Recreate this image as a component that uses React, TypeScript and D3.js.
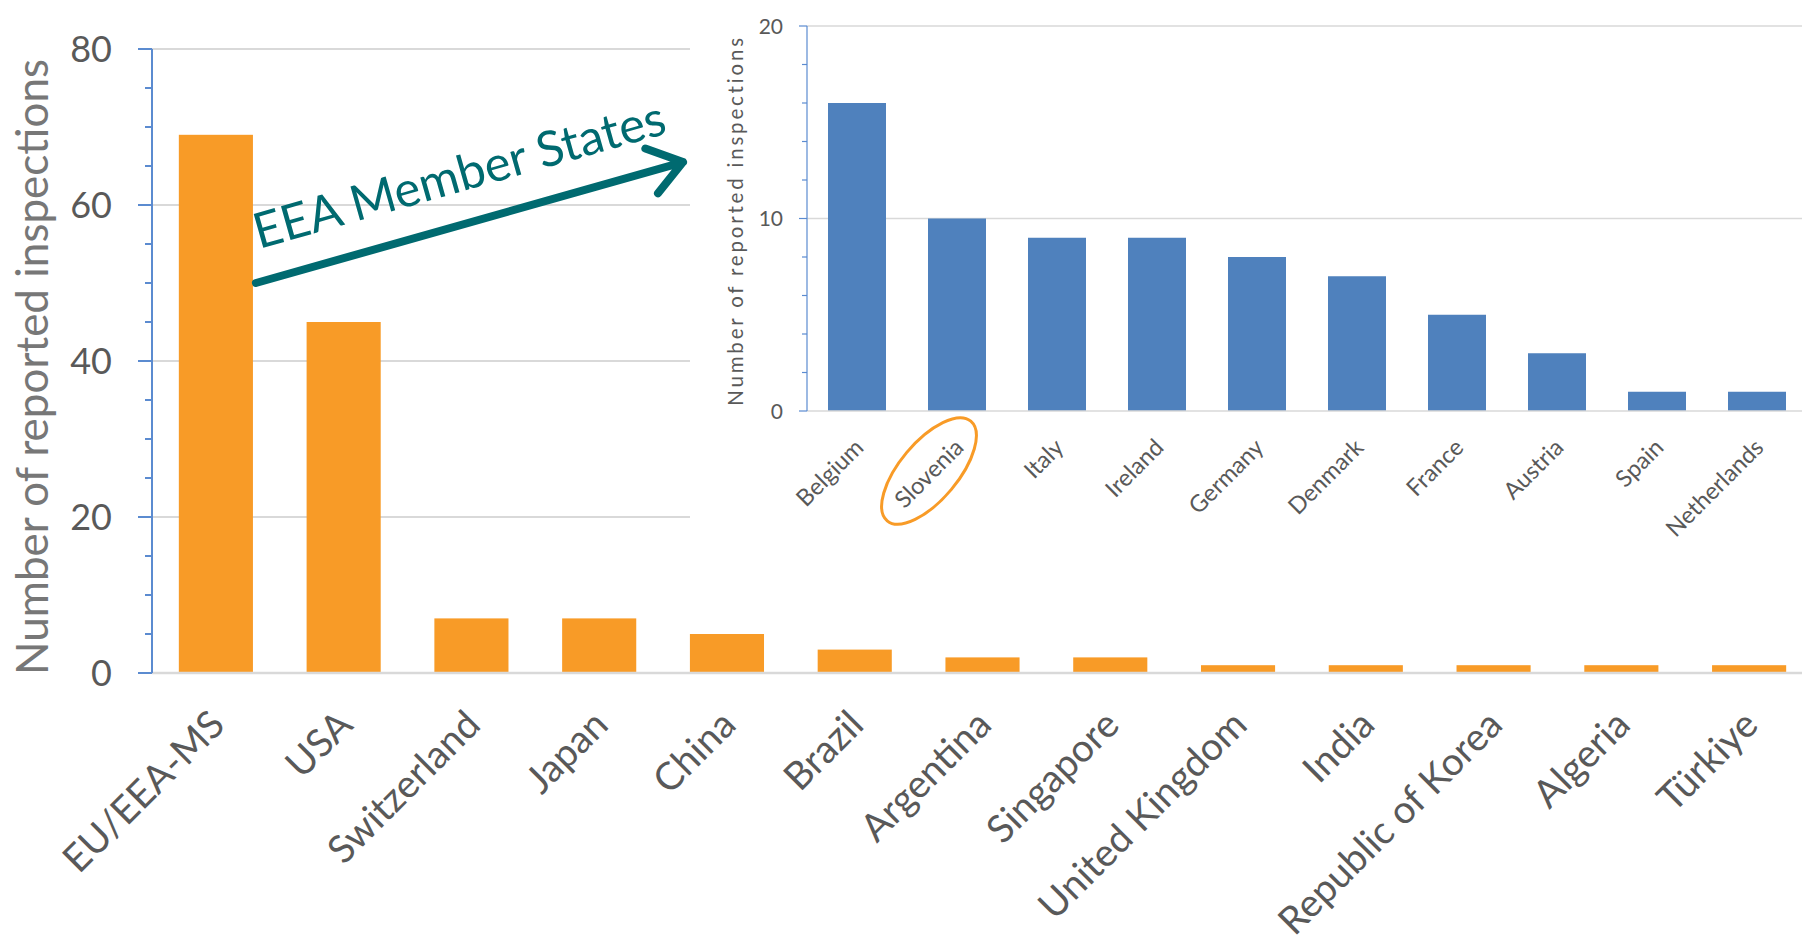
import React from "react";
import * as d3 from "d3";

const mainCategories = [
  "EU/EEA-MS", "USA", "Switzerland", "Japan", "China", "Brazil", "Argentina",
  "Singapore", "United Kingdom", "India", "Republic of Korea", "Algeria", "Türkiye",
];
const mainValues = [69, 45, 7, 7, 5, 3, 2, 2, 1, 1, 1, 1, 1];
const mainTicks = [0, 20, 40, 60, 80];

const eeaCategories = [
  "Belgium", "Slovenia", "Italy", "Ireland", "Germany", "Denmark", "France",
  "Austria", "Spain", "Netherlands",
];
const eeaValues = [16, 10, 9, 9, 8, 7, 5, 3, 1, 1];
const eeaTicks = [0, 10, 20];

const WIDTH = 1802;
const HEIGHT = 943;
const FONT = "Lato, 'Open Sans', sans-serif";
const ORANGE = "#F89B27";
const BLUE = "#4F81BD";
const TEAL = "#006A70";
const GRID = "#D9D9D9";
const AXIS = "#5B8BD0";
const TEXT = "#595959";

// inset panel
const INSET_LEFT = 690;
const INSET_BOTTOM = 560;

export default function App() {
  // main chart scales
  const xMain = d3.scaleBand<string>()
    .domain(mainCategories)
    .range([152, 1813])
    .paddingInner(0.42)
    .paddingOuter(0.21);
  const yMain = d3.scaleLinear().domain([0, 80]).range([673, 49]);
  const mainMinor = d3.range(0, 81, 5);

  // inset chart scales
  const xEea = d3.scaleBand<string>()
    .domain(eeaCategories)
    .range([807, 1807])
    .paddingInner(0.42)
    .paddingOuter(0.21);
  const yEea = d3.scaleLinear().domain([0, 20]).range([411, 26]);
  const eeaMinor = d3.range(0, 21, 2);

  const x0 = xMain.range()[0];
  const e0 = xEea.range()[0];

  // arrow from the EU bar to the inset
  const arrowStart: [number, number] = [xMain("EU/EEA-MS")! + xMain.bandwidth() + 3, yMain(50)];
  const arrowEnd: [number, number] = [INSET_LEFT - 7, yMain(65.5)];
  const ang = Math.atan2(arrowEnd[1] - arrowStart[1], arrowEnd[0] - arrowStart[0]);
  const head = 40;
  const arm1 = [arrowEnd[0] - head * Math.cos(ang - 0.62), arrowEnd[1] - head * Math.sin(ang - 0.62)];
  const arm2 = [arrowEnd[0] - head * Math.cos(ang + 0.62), arrowEnd[1] - head * Math.sin(ang + 0.62)];
  const arrowPath = d3.path();
  arrowPath.moveTo(arrowStart[0], arrowStart[1]);
  arrowPath.lineTo(arrowEnd[0], arrowEnd[1]);
  arrowPath.moveTo(arm1[0], arm1[1]);
  arrowPath.lineTo(arrowEnd[0], arrowEnd[1]);
  arrowPath.lineTo(arm2[0], arm2[1]);
  const angDeg = (ang * 180) / Math.PI;

  const slovX = xEea("Slovenia")! + xEea.bandwidth() / 2;

  return (
    <svg
      width={WIDTH}
      height={HEIGHT}
      style={{ position: "absolute", left: 0, top: 0, background: "#fff" }}
      fontFamily={FONT}
    >
      <rect width={WIDTH} height={HEIGHT} fill="#fff" />

      {/* main chart */}
      <g>
        {mainTicks.filter((t) => t > 0).map((t) => (
          <line key={t} x1={x0} x2={WIDTH} y1={yMain(t)} y2={yMain(t)} stroke={GRID} strokeWidth={2} />
        ))}
        {mainCategories.map((c, i) => (
          <rect
            key={c}
            x={xMain(c)}
            y={yMain(mainValues[i])}
            width={xMain.bandwidth()}
            height={yMain(0) - yMain(mainValues[i])}
            fill={ORANGE}
          />
        ))}
        <line x1={x0} x2={WIDTH} y1={yMain(0)} y2={yMain(0)} stroke={GRID} strokeWidth={2.5} />
        <line x1={x0} x2={x0} y1={yMain(80)} y2={yMain(0)} stroke={AXIS} strokeWidth={2} />
        {mainMinor.map((t) => (
          <line
            key={t}
            x1={t % 20 === 0 ? x0 - 14 : x0 - 7}
            x2={x0}
            y1={yMain(t)}
            y2={yMain(t)}
            stroke={AXIS}
            strokeWidth={2}
          />
        ))}
        {mainTicks.map((t) => (
          <text
            key={t}
            x={x0 - 40}
            y={yMain(t)}
            dy="0.36em"
            textAnchor="end"
            fontSize={36}
            fill={TEXT}
          >
            {t}
          </text>
        ))}
        {mainCategories.map((c) => (
          <text
            key={c}
            transform={`translate(${xMain(c)! + xMain.bandwidth() / 2 + 11}, ${yMain(0) + 54}) rotate(-45)`}
            textAnchor="end"
            fontSize={38.5}
            fill={TEXT}
          >
            {c}
          </text>
        ))}
        <text
          transform={`translate(48, ${(yMain(0) + yMain(80)) / 2 + 6}) rotate(-90)`}
          textAnchor="middle"
          fontSize={44}
          fill="#777777"
        >
          Number of reported inspections
        </text>
      </g>

      {/* inset chart with EEA member states */}
      <rect x={INSET_LEFT} y={0} width={WIDTH - INSET_LEFT} height={INSET_BOTTOM} fill="#fff" />
      <g>
        {eeaTicks.filter((t) => t > 0).map((t) => (
          <line key={t} x1={e0} x2={WIDTH} y1={yEea(t)} y2={yEea(t)} stroke={GRID} strokeWidth={1.5} />
        ))}
        {eeaCategories.map((c, i) => (
          <rect
            key={c}
            x={xEea(c)}
            y={yEea(eeaValues[i])}
            width={xEea.bandwidth()}
            height={yEea(0) - yEea(eeaValues[i])}
            fill={BLUE}
          />
        ))}
        <line x1={e0} x2={WIDTH} y1={yEea(0)} y2={yEea(0)} stroke={GRID} strokeWidth={1.5} />
        <line x1={e0} x2={e0} y1={yEea(20)} y2={yEea(0)} stroke={AXIS} strokeWidth={1.2} />
        {eeaMinor.map((t) => (
          <line
            key={t}
            x1={t % 10 === 0 ? e0 - 8 : e0 - 5}
            x2={e0}
            y1={yEea(t)}
            y2={yEea(t)}
            stroke={AXIS}
            strokeWidth={1.2}
          />
        ))}
        {eeaTicks.map((t) => (
          <text
            key={t}
            x={e0 - 24}
            y={yEea(t)}
            dy="0.36em"
            textAnchor="end"
            fontSize={21}
            fill={TEXT}
          >
            {t}
          </text>
        ))}
        {eeaCategories.map((c) => (
          <text
            key={c}
            transform={`translate(${xEea(c)! + xEea.bandwidth() / 2 + 8}, ${yEea(0) + 38}) rotate(-45)`}
            textAnchor="end"
            fontSize={23.5}
            fill={TEXT}
          >
            {c}
          </text>
        ))}
        <text
          transform={`translate(743, ${(yEea(0) + yEea(20)) / 2 + 2}) rotate(-90)`}
          textAnchor="middle"
          fontSize={20.5}
          letterSpacing={2.8}
          fill={TEXT}
        >
          Number of reported inspections
        </text>
        <ellipse
          cx={0}
          cy={0}
          rx={65}
          ry={29}
          transform={`translate(${slovX - 28}, ${yEea(0) + 60}) rotate(-50)`}
          fill="none"
          stroke={ORANGE}
          strokeWidth={3}
        />
      </g>

      {/* annotation */}
      <path
        d={arrowPath.toString()}
        fill="none"
        stroke={TEAL}
        strokeWidth={8}
        strokeLinecap="round"
        strokeLinejoin="round"
      />
      <text
        transform={`translate(${arrowStart[0] + 3}, ${arrowStart[1] - 34}) rotate(${angDeg})`}
        fontSize={49}
        fill={TEAL}
      >
        EEA Member States
      </text>
    </svg>
  );
}
